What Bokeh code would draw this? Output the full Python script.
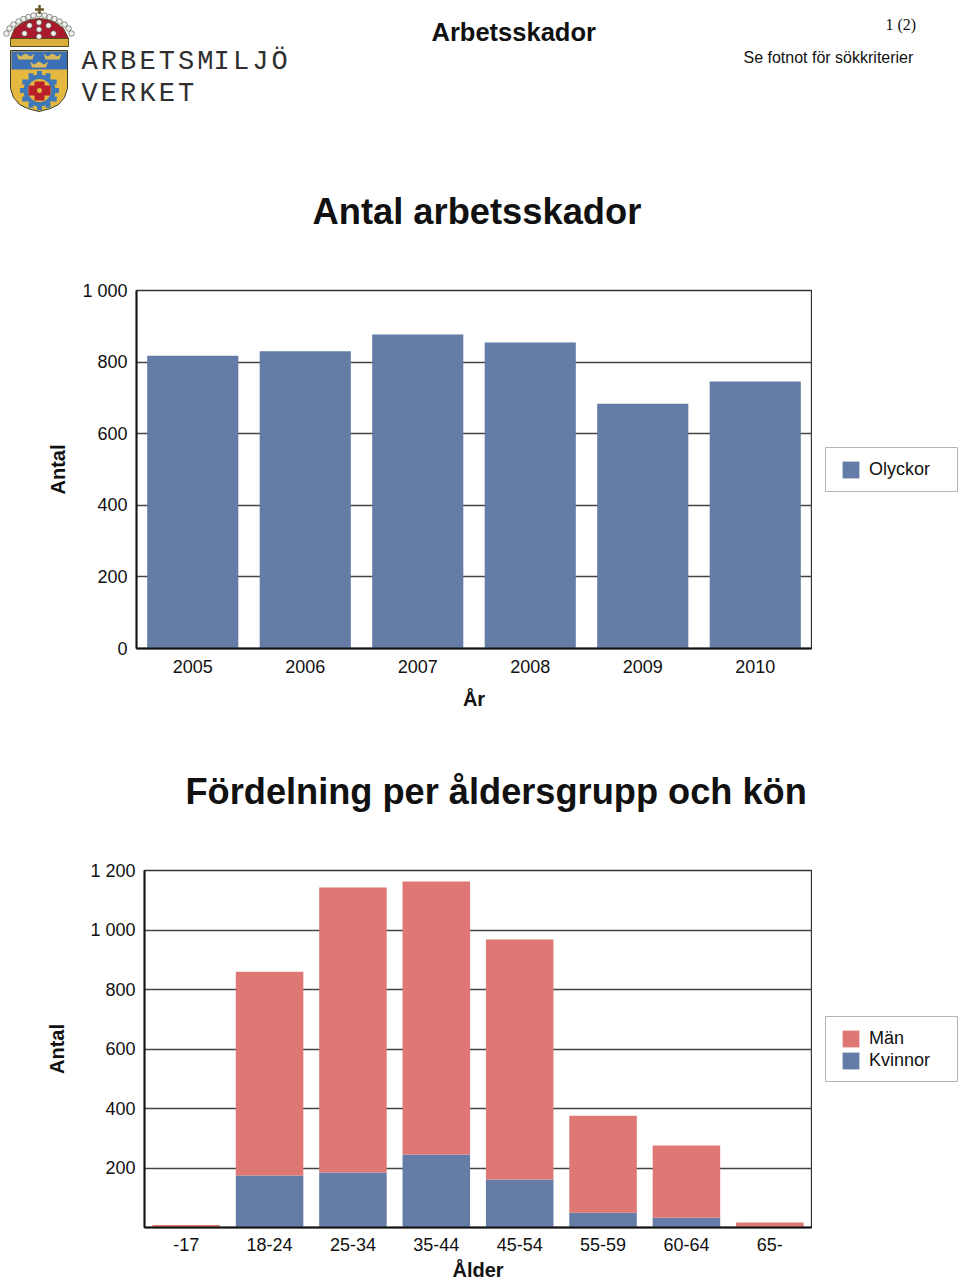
import math
from bokeh.plotting import figure
from bokeh.layouts import column, row
from bokeh.models import (ColumnDataSource, FactorRange, Range1d, FixedTicker, Legend, LegendItem)
from bokeh.core.properties import value
from bokeh.embed import file_html
from bokeh.resources import INLINE

years = ["2005", "2006", "2007", "2008", "2009", "2010"]
olyckor = [818, 830, 877, 855, 684, 746]
y1_ticks = [0, 200, 400, 600, 800, 1000]
y1_labels = {0: "0", 200: "200", 400: "400", 600: "600", 800: "800", 1000: "1 000"}

ages = ["-17", "18-24", "25-34", "35-44", "45-54", "55-59", "60-64", "65-"]
kvinnor = [0, 175, 185, 245, 161, 50, 33, 0]
man = [8, 685, 958, 918, 807, 326, 243, 17]
y2_ticks = [200, 400, 600, 800, 1000, 1200]
y2_labels = {200: "200", 400: "400", 600: "600", 800: "800", 1000: "1 000", 1200: "1 200"}

BLUE = "#647CA6"
RED = "#DF7874"
SANS = "Liberation Sans"
W = 960
CHART_W = 812
SIDE_W = W - CHART_W


def style(p, xlabel, ylabel, ticks, labels, ystand):
    p.xgrid.visible = False
    p.ygrid.grid_line_color = "#444444"
    p.ygrid.grid_line_width = 1.3
    p.ygrid.ticker = FixedTicker(ticks=ticks)
    p.outline_line_color = "#333333"
    p.outline_line_width = 1.3
    p.yaxis.ticker = FixedTicker(ticks=ticks)
    p.yaxis.major_label_overrides = labels
    for ax in (p.xaxis[0], p.yaxis[0]):
        ax.major_tick_line_color = None
        ax.minor_tick_line_color = None
        ax.major_tick_out = 0
        ax.major_tick_in = 0
        ax.axis_line_color = "#111111"
        ax.axis_line_width = 2
        ax.major_label_text_font = SANS
        ax.major_label_text_font_size = "18px"
        ax.major_label_text_color = "#111111"
        ax.axis_label_text_font = SANS
        ax.axis_label_text_font_style = "bold"
        ax.axis_label_text_font_size = "20px"
        ax.axis_label_text_color = "#111111"
    p.xaxis.major_label_standoff = 11
    p.yaxis.major_label_standoff = 9
    p.xaxis.axis_label = xlabel
    p.yaxis.axis_label = ylabel
    p.xaxis.axis_label_standoff = 12
    p.yaxis.axis_label_standoff = ystand


def side(top, height, box_top, box_bottom, legend_bottom, entries):
    """Legend column to the right of a chart, in page pixels."""
    s = figure(width=SIDE_W, height=height, x_range=Range1d(CHART_W, W), y_range=Range1d(top + height, top),
               toolbar_location=None, output_backend="svg", min_border=0, outline_line_color=None,
               frame_align=False)
    s.axis.visible = False
    s.grid.visible = False
    s.quad(left=[825], right=[957], top=[box_top], bottom=[box_bottom], fill_color="white",
           line_color="#B5B5B5", line_width=1)
    items = []
    for label, color in entries:
        r = s.vbar(x=[825], top=[box_top], bottom=[box_top], width=0, fill_color=color, line_color=None)
        items.append(LegendItem(label=label, renderers=[r]))
    lg = Legend(items=items, location=(840 - CHART_W, top + height - legend_bottom), orientation="vertical",
                padding=0, margin=0, spacing=1, glyph_width=21, glyph_height=21, label_height=17,
                label_standoff=8, label_text_font=SANS, label_text_font_size="18px",
                label_text_color="#111111", background_fill_alpha=0, border_line_alpha=0)
    s.add_layout(lg, "center")
    return s


# ---------------- header with logo ----------------
HEAD_H = 260
h = figure(width=W, height=HEAD_H, x_range=Range1d(0, W), y_range=Range1d(HEAD_H, 0),
           toolbar_location=None, output_backend="svg", min_border=0, outline_line_color=None,
           frame_align=False)
h.axis.visible = False
h.grid.visible = False

# shield
sx = [10, 67, 67, 64, 58, 50, 38.5, 27, 19, 13, 10]
sy = [50, 50, 88, 97, 104, 108, 111, 108, 104, 97, 88]
h.patch(sx, sy, fill_color="#E5B83F", line_color="#3a3a2a", line_width=1)
h.quad(left=[11], right=[66.5], top=[51], bottom=[69], fill_color="#3B6FB6", line_color=None)
for cx, cy in [(25, 56), (52, 56), (38.5, 64)]:
    h.patch([cx - 9, cx - 5, cx, cx + 5, cx + 9, cx + 7, cx - 7],
            [cy - 3, cy, cy - 3, cy, cy - 3, cy + 3, cy + 3], fill_color="#D9B95A", line_color=None)
# gear
tx = [39 + 17 * math.cos(i * math.pi / 6) for i in range(12)]
ty = [90 + 17 * math.sin(i * math.pi / 6) for i in range(12)]
h.scatter(tx, ty, size=5, marker="square", fill_color="#3F78B8", line_color=None)
h.scatter([39], [90], size=32, marker="circle", fill_color="#3F78B8", line_color=None)
h.scatter([39], [90], size=23, marker="circle", fill_color="#E5B83F", line_color=None)
h.patch([34, 44, 44, 50, 50, 44, 44, 34, 34, 28, 28, 34],
        [81, 81, 85, 85, 95, 95, 100, 100, 95, 95, 85, 85], fill_color="#B8202A", line_color=None)
h.scatter([39], [90], size=5, marker="circle", fill_color="#E5B83F", line_color=None)
# crown
h.patch([10, 14, 22, 30, 38.5, 47, 55, 63, 68, 68, 10],
        [38, 28, 22, 19, 18, 19, 22, 28, 38, 42, 42], fill_color="#A81A2C", line_color="#5a4a20", line_width=1)
h.quad(left=[10], right=[68], top=[38], bottom=[46], fill_color="#D9AE3A", line_color="#5a4a20")
h.scatter([6, 9, 13, 18, 23, 28, 33, 38.5, 44, 49, 54, 59, 64, 68, 71,
           38.5, 38.5, 38.5, 24, 29, 53, 48],
          [33, 28, 24, 21, 18.5, 16.5, 15, 14, 15, 16.5, 18.5, 21, 24, 28, 33,
           22, 29, 36, 33, 25, 33, 25],
          size=5.5, marker="circle", fill_color="#F2F2EC", line_color="#444444", line_width=0.6)
h.scatter([39], [9], size=9, marker="cross", line_color="#6a5a2a", line_width=2.5)

# logo words
word1 = list("ARBETSMILJÖ")
word2 = list("VERKET")
h.text([81 + 19.3 * i + (0 if i < 7 else -3) for i in range(len(word1))], [61.5] * len(word1), text=word1,
       text_font=value("Liberation Mono"), text_font_size="27px", text_color="#2f2f2f",
       text_align="left", text_baseline="alphabetic")
h.text([81 + 19.3 * i for i in range(len(word2))], [93] * len(word2), text=word2,
       text_font=value("Liberation Mono"), text_font_size="27px", text_color="#2f2f2f",
       text_align="left", text_baseline="alphabetic")

h.text([431], [31], text=["Arbetsskador"], text_font=value(SANS), text_font_style="bold",
       text_font_size="25.5px", text_color="#111111", text_baseline="alphabetic")
h.text([885], [24], text=["1 (2)"], text_font=value("Liberation Serif"), text_font_size="16px",
       text_color="#111111", text_baseline="alphabetic")
h.text([743], [57], text=["Se fotnot för sökkriterier"], text_font=value(SANS),
       text_font_size="16px", text_color="#111111", text_baseline="alphabetic")
h.text([312], [211], text=["Antal arbetsskador"], text_font=value(SANS), text_font_style="bold",
       text_font_size="36.3px", text_color="#111111", text_baseline="alphabetic")

# ---------------- chart 1 ----------------
P1_TOP = HEAD_H
P1_H = 480
p1 = figure(width=CHART_W, height=P1_H, x_range=FactorRange(factors=years), y_range=Range1d(0, 1000),
            toolbar_location=None, output_backend="svg", frame_align=False,
            min_border_left=136, min_border_right=1, min_border_top=290 - P1_TOP,
            min_border_bottom=P1_TOP + P1_H - 648)
src1 = ColumnDataSource(dict(year=years, olyckor=olyckor))
style(p1, "År", "Antal", y1_ticks, y1_labels, 10)
p1.vbar(x="year", top="olyckor", width=0.81, source=src1, fill_color=BLUE, line_color=None)
s1 = side(P1_TOP, P1_H, 447, 491, 480, [("Olyckor", BLUE)])

# ---------------- second title ----------------
P2_TOP = P1_TOP + P1_H
t = figure(width=W, height=100, x_range=Range1d(0, W), y_range=Range1d(P2_TOP + 100, P2_TOP),
           toolbar_location=None, output_backend="svg", min_border=0, outline_line_color=None,
           frame_align=False)
t.axis.visible = False
t.grid.visible = False
t.text([185], [791], text=["Fördelning per åldersgrupp och kön"], text_font=value(SANS), text_font_style="bold",
       text_font_size="36.2px", text_color="#111111", text_baseline="alphabetic")

# ---------------- chart 2 ----------------
P3_TOP = P2_TOP + 100
H3 = 1283 - P3_TOP
p2 = figure(width=CHART_W, height=H3, x_range=FactorRange(factors=ages), y_range=Range1d(0, 1200),
            toolbar_location=None, output_backend="svg", frame_align=False,
            min_border_left=144, min_border_right=1, min_border_top=870 - P3_TOP,
            min_border_bottom=1283 - 1227)
src2 = ColumnDataSource(dict(age=ages, Kvinnor=kvinnor, Man=man))
style(p2, "Ålder", "Antal", y2_ticks, y2_labels, 19)
p2.xaxis.major_label_text_line_height = 0.8
p2.xaxis.axis_label_text_line_height = 0.8
p2.xaxis.major_label_standoff = 10
p2.xaxis.axis_label_standoff = 5
p2.vbar_stack(["Kvinnor", "Man"], x="age", width=0.81, source=src2, fill_color=[BLUE, RED], line_color=None)
s2 = side(P3_TOP, H3, 1016, 1081, 1071, [("Män", RED), ("Kvinnor", BLUE)])

page = column(h, row(p1, s1, spacing=0), t, row(p2, s2, spacing=0), spacing=0)
open("out.html", "w").write(file_html(page, INLINE))
